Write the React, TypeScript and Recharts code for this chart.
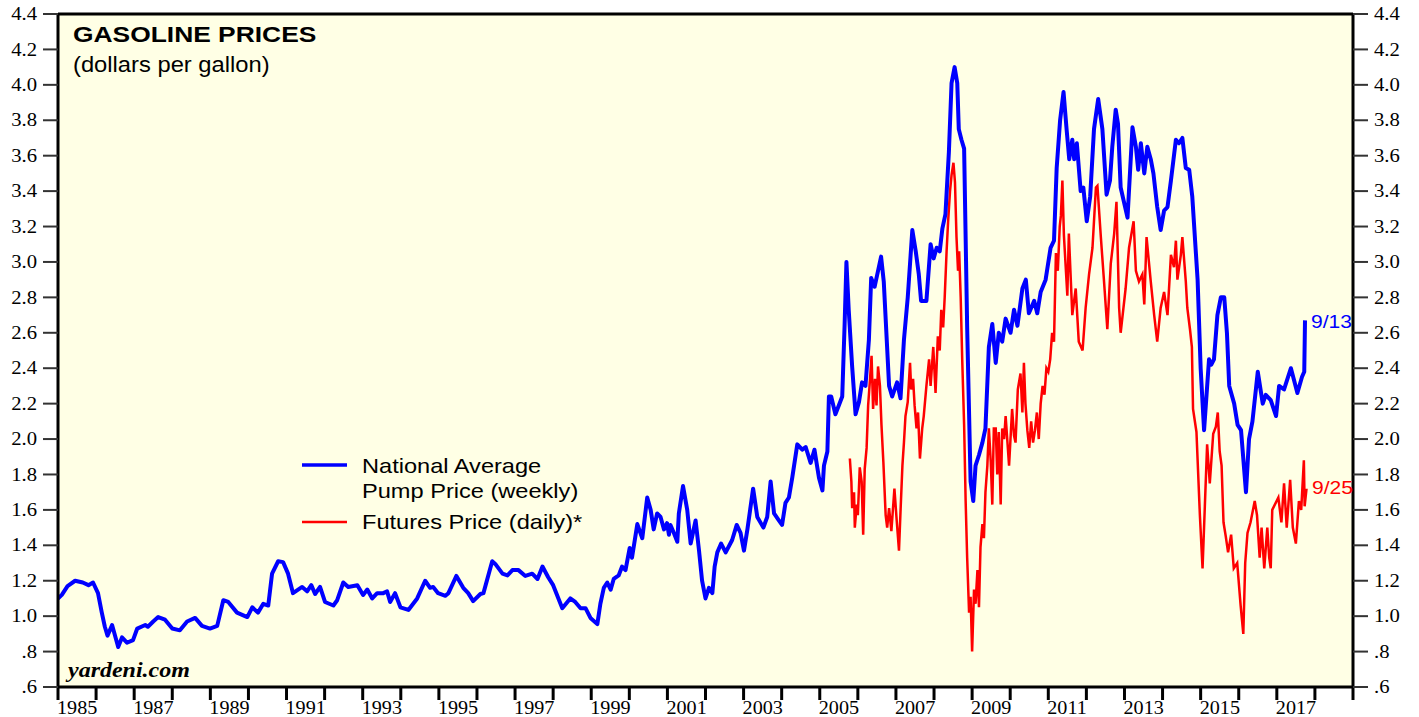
import React from "react";
import { LineChart, Line, XAxis, YAxis, CartesianGrid, ReferenceLine } from "recharts";

// [decimal year, dollars per gallon]
const pumpPrice: [number, number][] = [
  [1985.0, 1.1], [1985.1, 1.12], [1985.25, 1.17], [1985.45, 1.2], [1985.65, 1.19], [1985.8, 1.175],
  [1985.92, 1.19], [1986.05, 1.13], [1986.15, 1.02], [1986.23, 0.94], [1986.3, 0.89], [1986.42, 0.95],
  [1986.58, 0.826], [1986.68, 0.88], [1986.81, 0.85], [1986.97, 0.865], [1987.08, 0.93], [1987.29, 0.95],
  [1987.36, 0.94], [1987.5, 0.97], [1987.63, 0.995], [1987.81, 0.98], [1988.0, 0.93], [1988.2, 0.92],
  [1988.39, 0.97], [1988.6, 0.99], [1988.78, 0.945], [1988.99, 0.93], [1989.18, 0.945], [1989.34, 1.09],
  [1989.47, 1.08], [1989.7, 1.02], [1989.97, 0.995], [1990.1, 1.05], [1990.25, 1.02], [1990.39, 1.07],
  [1990.52, 1.06], [1990.62, 1.24], [1990.78, 1.31], [1990.91, 1.305], [1991.04, 1.24], [1991.17, 1.13],
  [1991.41, 1.165], [1991.54, 1.14], [1991.65, 1.175], [1991.75, 1.125], [1991.88, 1.165], [1992.01, 1.08],
  [1992.23, 1.06], [1992.33, 1.09], [1992.49, 1.19], [1992.62, 1.165], [1992.86, 1.175], [1993.01, 1.12],
  [1993.12, 1.15], [1993.25, 1.1], [1993.38, 1.13], [1993.54, 1.13], [1993.64, 1.14], [1993.72, 1.08],
  [1993.85, 1.13], [1993.99, 1.05], [1994.2, 1.035], [1994.43, 1.1], [1994.64, 1.2], [1994.77, 1.16],
  [1994.85, 1.165], [1994.98, 1.13], [1995.17, 1.115], [1995.25, 1.13], [1995.46, 1.227], [1995.64, 1.16],
  [1995.77, 1.13], [1995.9, 1.085], [1996.09, 1.125], [1996.17, 1.13], [1996.4, 1.31], [1996.48, 1.295],
  [1996.67, 1.24], [1996.8, 1.23], [1996.93, 1.26], [1997.09, 1.26], [1997.27, 1.227], [1997.45, 1.24],
  [1997.59, 1.21], [1997.72, 1.28], [1997.87, 1.22], [1998.0, 1.175], [1998.24, 1.045], [1998.45, 1.1],
  [1998.58, 1.08], [1998.72, 1.045], [1998.85, 1.045], [1998.98, 0.99], [1999.16, 0.955], [1999.24, 1.07],
  [1999.33, 1.16], [1999.42, 1.19], [1999.51, 1.15], [1999.59, 1.21], [1999.72, 1.23], [1999.81, 1.28],
  [1999.9, 1.26], [2000.01, 1.385], [2000.07, 1.33], [2000.21, 1.52], [2000.34, 1.44], [2000.47, 1.67],
  [2000.56, 1.6], [2000.64, 1.49], [2000.73, 1.58], [2000.82, 1.56], [2000.91, 1.49], [2000.99, 1.525],
  [2001.04, 1.46], [2001.08, 1.515], [2001.17, 1.47], [2001.26, 1.42], [2001.3, 1.58], [2001.41, 1.735],
  [2001.52, 1.6], [2001.61, 1.41], [2001.74, 1.54], [2001.83, 1.37], [2001.91, 1.2], [2002.0, 1.1],
  [2002.09, 1.16], [2002.18, 1.13], [2002.24, 1.28], [2002.31, 1.36], [2002.41, 1.41], [2002.53, 1.36],
  [2002.7, 1.43], [2002.82, 1.515], [2002.92, 1.47], [2003.01, 1.37], [2003.1, 1.49], [2003.25, 1.72],
  [2003.36, 1.56], [2003.52, 1.5], [2003.62, 1.56], [2003.71, 1.76], [2003.8, 1.58], [2003.93, 1.54],
  [2004.01, 1.515], [2004.1, 1.64], [2004.19, 1.67], [2004.28, 1.785], [2004.41, 1.97], [2004.54, 1.94],
  [2004.63, 1.955], [2004.76, 1.865], [2004.86, 1.94], [2004.98, 1.78], [2005.07, 1.71], [2005.11, 1.85],
  [2005.2, 1.93], [2005.24, 2.24], [2005.3, 2.24], [2005.41, 2.14], [2005.5, 2.19], [2005.59, 2.24],
  [2005.65, 2.63], [2005.7, 3.0], [2005.76, 2.73], [2005.85, 2.41], [2005.94, 2.14], [2006.03, 2.21],
  [2006.11, 2.32], [2006.2, 2.3], [2006.29, 2.56], [2006.35, 2.91], [2006.44, 2.86], [2006.53, 2.95],
  [2006.61, 3.03], [2006.68, 2.89], [2006.82, 2.3], [2006.9, 2.24], [2007.03, 2.32], [2007.12, 2.23],
  [2007.21, 2.56], [2007.31, 2.8], [2007.43, 3.18], [2007.52, 3.06], [2007.6, 2.93], [2007.66, 2.78],
  [2007.8, 2.78], [2007.91, 3.1], [2007.99, 3.02], [2008.07, 3.08], [2008.15, 3.06], [2008.22, 3.19],
  [2008.3, 3.27], [2008.39, 3.62], [2008.46, 4.01], [2008.54, 4.1], [2008.61, 4.01], [2008.65, 3.75],
  [2008.72, 3.69], [2008.79, 3.64], [2008.87, 2.63], [2008.96, 1.76], [2009.03, 1.65], [2009.09, 1.85],
  [2009.18, 1.91], [2009.27, 1.98], [2009.35, 2.06], [2009.44, 2.52], [2009.53, 2.65], [2009.62, 2.43],
  [2009.7, 2.6], [2009.79, 2.55], [2009.88, 2.68], [2010.01, 2.6], [2010.1, 2.73], [2010.19, 2.64],
  [2010.32, 2.85], [2010.41, 2.9], [2010.49, 2.71], [2010.63, 2.78], [2010.71, 2.71], [2010.8, 2.83],
  [2010.93, 2.9], [2011.06, 3.08], [2011.15, 3.12], [2011.22, 3.53], [2011.31, 3.8], [2011.4, 3.96],
  [2011.48, 3.75], [2011.55, 3.58], [2011.63, 3.69], [2011.68, 3.58], [2011.75, 3.67], [2011.85, 3.4],
  [2011.92, 3.42], [2012.01, 3.23], [2012.1, 3.37], [2012.2, 3.75], [2012.31, 3.92], [2012.42, 3.75],
  [2012.53, 3.38], [2012.62, 3.46], [2012.68, 3.65], [2012.77, 3.86], [2012.83, 3.78], [2012.9, 3.42],
  [2013.08, 3.25], [2013.21, 3.76], [2013.3, 3.65], [2013.36, 3.52], [2013.43, 3.67], [2013.52, 3.5],
  [2013.6, 3.65], [2013.69, 3.58], [2013.76, 3.5], [2013.86, 3.31], [2013.95, 3.18], [2014.04, 3.29],
  [2014.13, 3.31], [2014.22, 3.46], [2014.35, 3.69], [2014.43, 3.67], [2014.52, 3.7], [2014.61, 3.53],
  [2014.7, 3.52], [2014.78, 3.37], [2014.92, 2.9], [2015.0, 2.4], [2015.09, 2.05], [2015.22, 2.45],
  [2015.28, 2.42], [2015.35, 2.45], [2015.44, 2.7], [2015.53, 2.8], [2015.62, 2.8], [2015.69, 2.6],
  [2015.75, 2.3], [2015.88, 2.2], [2015.97, 2.08], [2016.06, 2.05], [2016.19, 1.7], [2016.27, 2.0],
  [2016.36, 2.1], [2016.5, 2.38], [2016.63, 2.2], [2016.71, 2.25], [2016.84, 2.22], [2016.98, 2.13],
  [2017.06, 2.3], [2017.19, 2.28], [2017.37, 2.4], [2017.54, 2.26], [2017.66, 2.35], [2017.72, 2.38],
  [2017.74, 2.67],
];

const futuresPrice: [number, number][] = [
  [2005.79, 1.89], [2005.83, 1.76], [2005.85, 1.61], [2005.9, 1.7], [2005.92, 1.5], [2005.97, 1.63],
  [2006.0, 1.57], [2006.05, 1.84], [2006.1, 1.76], [2006.14, 1.46], [2006.18, 1.83], [2006.23, 1.95],
  [2006.27, 2.19], [2006.32, 2.34], [2006.36, 2.47], [2006.4, 2.17], [2006.45, 2.34], [2006.49, 2.19],
  [2006.53, 2.41], [2006.58, 2.3], [2006.62, 2.08], [2006.67, 1.87], [2006.73, 1.57], [2006.77, 1.5],
  [2006.82, 1.61], [2006.88, 1.48], [2006.93, 1.63], [2006.96, 1.72], [2007.02, 1.54], [2007.08, 1.37],
  [2007.12, 1.59], [2007.17, 1.85], [2007.21, 1.98], [2007.25, 2.13], [2007.31, 2.21], [2007.37, 2.43],
  [2007.4, 2.28], [2007.45, 2.34], [2007.49, 2.19], [2007.54, 2.06], [2007.58, 2.15], [2007.63, 1.89],
  [2007.69, 2.06], [2007.73, 2.13], [2007.8, 2.3], [2007.87, 2.45], [2007.91, 2.3], [2007.98, 2.52],
  [2008.04, 2.26], [2008.1, 2.58], [2008.15, 2.5], [2008.19, 2.73], [2008.24, 2.63], [2008.28, 2.8],
  [2008.33, 3.06], [2008.37, 3.23], [2008.42, 3.4], [2008.46, 3.49], [2008.51, 3.56], [2008.55, 3.45],
  [2008.59, 3.14], [2008.63, 2.95], [2008.66, 3.06], [2008.7, 2.8], [2008.74, 2.45], [2008.79, 2.08],
  [2008.83, 1.65], [2008.87, 1.33], [2008.92, 1.02], [2008.96, 1.11], [2009.0, 0.8], [2009.05, 1.15],
  [2009.09, 1.07], [2009.14, 1.26], [2009.18, 1.05], [2009.22, 1.39], [2009.27, 1.52], [2009.31, 1.44],
  [2009.35, 1.7], [2009.4, 1.85], [2009.44, 2.06], [2009.49, 1.87], [2009.53, 1.63], [2009.57, 2.06],
  [2009.62, 2.06], [2009.66, 1.8], [2009.7, 2.04], [2009.75, 1.63], [2009.79, 2.06], [2009.84, 2.0],
  [2009.88, 2.13], [2009.97, 1.85], [2010.05, 2.17], [2010.1, 2.02], [2010.14, 1.98], [2010.2, 2.28],
  [2010.27, 2.37], [2010.32, 2.15], [2010.36, 2.43], [2010.4, 2.2], [2010.45, 2.05], [2010.5, 1.95],
  [2010.55, 2.1], [2010.6, 1.98], [2010.65, 2.05], [2010.7, 2.15], [2010.75, 2.0], [2010.8, 2.2],
  [2010.85, 2.3], [2010.9, 2.25], [2010.95, 2.4], [2011.0, 2.38], [2011.05, 2.45], [2011.1, 2.6],
  [2011.15, 2.55], [2011.2, 3.05], [2011.25, 2.95], [2011.3, 3.2], [2011.33, 3.26], [2011.37, 3.46],
  [2011.41, 3.15], [2011.5, 2.81], [2011.54, 3.16], [2011.63, 2.7], [2011.72, 2.85], [2011.8, 2.55],
  [2011.9, 2.5], [2011.98, 2.74], [2012.07, 2.93], [2012.16, 3.08], [2012.25, 3.42], [2012.29, 3.43],
  [2012.38, 3.14], [2012.46, 2.9], [2012.55, 2.62], [2012.64, 2.99], [2012.73, 3.16], [2012.79, 3.34],
  [2012.86, 2.74], [2012.9, 2.6], [2013.03, 2.85], [2013.12, 3.08], [2013.24, 3.23], [2013.3, 2.95],
  [2013.38, 2.89], [2013.47, 2.93], [2013.52, 2.76], [2013.58, 3.14], [2013.69, 2.89], [2013.78, 2.7],
  [2013.86, 2.55], [2013.95, 2.74], [2014.04, 2.83], [2014.13, 2.7], [2014.22, 3.04], [2014.3, 2.97],
  [2014.35, 3.12], [2014.39, 2.9], [2014.48, 3.04], [2014.52, 3.14], [2014.61, 2.89], [2014.65, 2.74],
  [2014.72, 2.62], [2014.77, 2.52], [2014.8, 2.17], [2014.89, 2.04], [2014.98, 1.57], [2015.05, 1.27],
  [2015.11, 1.62], [2015.17, 1.97], [2015.24, 1.75], [2015.33, 2.03], [2015.4, 2.07], [2015.45, 2.15],
  [2015.5, 1.93], [2015.55, 1.85], [2015.6, 1.53], [2015.66, 1.45], [2015.72, 1.36], [2015.8, 1.46],
  [2015.87, 1.27], [2015.96, 1.3], [2016.05, 1.06], [2016.12, 0.9], [2016.17, 1.3], [2016.23, 1.47],
  [2016.31, 1.53], [2016.42, 1.65], [2016.48, 1.57], [2016.55, 1.33], [2016.6, 1.5], [2016.67, 1.27],
  [2016.75, 1.5], [2016.8, 1.33], [2016.84, 1.27], [2016.88, 1.6], [2017.04, 1.67], [2017.12, 1.53],
  [2017.19, 1.75], [2017.26, 1.5], [2017.35, 1.77], [2017.42, 1.5], [2017.5, 1.41], [2017.58, 1.65],
  [2017.64, 1.6], [2017.71, 1.88], [2017.73, 1.62], [2017.78, 1.72],
];

const priceTicks = [0.6, 0.8, 1.0, 1.2, 1.4, 1.6, 1.8, 2.0, 2.2, 2.4, 2.6, 2.8, 3.0, 3.2, 3.4, 3.6, 3.8, 4.0, 4.2, 4.4];
const yearTicks = [
  1985, 1986, 1987, 1988, 1989, 1990, 1991, 1992, 1993, 1994, 1995, 1996, 1997, 1998, 1999, 2000, 2001,
  2002, 2003, 2004, 2005, 2006, 2007, 2008, 2009, 2010, 2011, 2012, 2013, 2014, 2015, 2016, 2017, 2018, 2019,
];
const yearLabels = [1985, 1987, 1989, 1991, 1993, 1995, 1997, 1999, 2001, 2003, 2005, 2007, 2009, 2011, 2013, 2015, 2017];

const pumpData = pumpPrice.map(([t, v]) => ({ t, v }));
const futuresData = futuresPrice.map(([t, v]) => ({ t, v }));

const serif = "'Liberation Serif', 'Times New Roman', serif";
const sans = "'Liberation Sans', Arial, Helvetica, sans-serif";
const BLUE = "#0000FF";
const RED = "#FF0000";

const fmtPrice = (v: number) => (v < 1 ? v.toFixed(1).slice(1) : v.toFixed(1));

function PriceTick({ x, y, payload, anchor }: any) {
  return (
    <text
      transform={`translate(${x},${y}) scale(1.15,1)`}
      textAnchor={anchor}
      dy="0.34em"
      fontFamily={serif}
      fontSize={18}
      fill="#000"
    >
      {fmtPrice(payload.value)}
    </text>
  );
}

function YearTick({ x, y, payload }: any) {
  if (!yearLabels.includes(payload.value)) return <g />;
  return (
    <text transform={`translate(${x - 1},${y + 14}) scale(1.12,1)`} textAnchor="start" fontFamily={serif} fontSize={18} fill="#000">
      {payload.value}
    </text>
  );
}

export default function App() {
  return (
    <div style={{ position: "absolute", left: 0, top: 0, width: 1419, height: 717, background: "#fff" }}>
      <LineChart width={1419} height={717} margin={{ top: 14, right: 0, bottom: 0, left: 0 }}>
        <CartesianGrid fill="#FFFFE5" horizontal={false} vertical={false} />
        <XAxis
          type="number"
          dataKey="t"
          domain={[1985, 2019]}
          ticks={yearTicks}
          interval={0}
          height={30}
          tickSize={13}
          tickMargin={0}
          axisLine={{ stroke: "#000", strokeWidth: 3 }}
          tickLine={{ stroke: "#000", strokeWidth: 3 }}
          tick={<YearTick />}
          allowDataOverflow
        />
        <YAxis
          domain={[0.6, 4.4]}
          ticks={priceTicks}
          interval={0}
          width={58}
          tickSize={15}
          tickMargin={6}
          axisLine={{ stroke: "#000", strokeWidth: 3 }}
          tickLine={{ stroke: "#333", strokeWidth: 2 }}
          tick={<PriceTick anchor="end" />}
          allowDataOverflow
        />
        <YAxis
          yAxisId="right"
          orientation="right"
          domain={[0.6, 4.4]}
          ticks={priceTicks}
          interval={0}
          width={66}
          tickSize={15}
          tickMargin={6}
          axisLine={{ stroke: "#000", strokeWidth: 3 }}
          tickLine={{ stroke: "#333", strokeWidth: 2 }}
          tick={<PriceTick anchor="start" />}
          allowDataOverflow
        />
        <ReferenceLine y={4.4} stroke="#000" strokeWidth={3} />
        <Line
          data={futuresData}
          dataKey="v"
          stroke={RED}
          strokeWidth={2.5}
          dot={false}
          activeDot={false}
          isAnimationActive={false}
        />
        <Line
          data={pumpData}
          dataKey="v"
          stroke={BLUE}
          strokeWidth={4}
          strokeLinejoin="round"
          dot={false}
          activeDot={false}
          isAnimationActive={false}
        />
      </LineChart>
      <svg width={1419} height={717} style={{ position: "absolute", left: 0, top: 0, pointerEvents: "none" }}>
        <text transform="translate(73,42) scale(1.2,1)" fontFamily={sans} fontWeight="bold" fontSize={22} fill="#000">
          GASOLINE PRICES
        </text>
        <text transform="translate(73,72) scale(1.08,1)" fontFamily={sans} fontSize={22} fill="#000">
          (dollars per gallon)
        </text>
        <line x1={302} x2={347} y1={465} y2={465} stroke={BLUE} strokeWidth={3.5} />
        <text transform="translate(362,473) scale(1.18,1)" fontFamily={sans} fontSize={20} fill="#000">
          National Average
        </text>
        <text transform="translate(362,498) scale(1.18,1)" fontFamily={sans} fontSize={20} fill="#000">
          Pump Price (weekly)
        </text>
        <line x1={302} x2={347} y1={522} y2={522} stroke={RED} strokeWidth={2.5} />
        <text transform="translate(362,529) scale(1.18,1)" fontFamily={sans} fontSize={20} fill="#000">
          Futures Price (daily)*
        </text>
        <text transform="translate(68,677) scale(1.2,1)" fontFamily={serif} fontStyle="italic" fontWeight="bold" fontSize={20} fill="#000">
          yardeni.com
        </text>
        <text transform="translate(1311,328) scale(1.17,1)" fontFamily={sans} fontSize={18} fill={BLUE}>
          9/13
        </text>
        <text transform="translate(1312,494) scale(1.17,1)" fontFamily={sans} fontSize={18} fill={RED}>
          9/25
        </text>
      </svg>
    </div>
  );
}
